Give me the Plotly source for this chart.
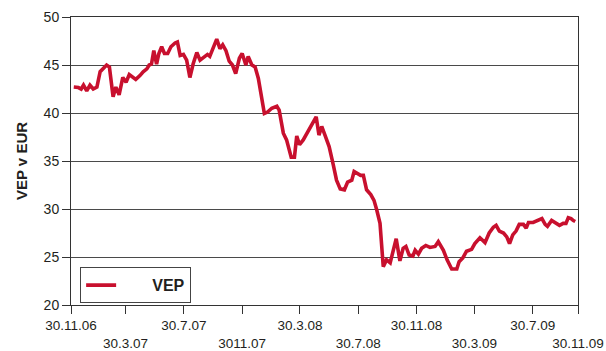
import pandas as pd
import plotly.graph_objects as go

# Weekly VEP price (EUR); day = days since 30.11.2006
day = [6, 16, 22, 27, 34, 41, 48, 56, 63, 70, 77, 83, 91, 97, 104, 112, 119, 126,
       133, 140, 149, 156, 164, 169, 174, 179, 185, 190, 196, 202, 209, 216, 225,
       230, 236, 243, 250, 257, 264, 272, 279, 288, 295, 300, 308, 315, 322, 328,
       335, 342, 349, 356, 364, 370, 378, 383, 391, 398, 405, 412, 418, 425, 434,
       445, 450, 459, 466, 476, 483, 488, 494, 502, 513, 524, 530, 536, 542, 549,
       558, 567, 574, 582, 591, 598, 607, 612, 619, 626, 632, 639, 648, 655, 661,
       668, 675, 682, 690, 697, 703, 711, 718, 724, 731, 739, 744, 751, 758, 767,
       776, 787, 794, 805, 813, 823, 834, 839, 847, 855, 866, 873, 884, 895, 904,
       913, 919, 926, 935, 942, 948, 955, 962, 969, 978, 984, 989, 999, 1010, 1018,
       1025, 1030, 1039, 1048, 1056, 1064, 1070, 1075, 1081, 1086, 1090]
vep = [42.7, 42.65, 42.5, 42.9, 42.3, 42.9, 42.5, 42.7, 44.3, 44.6, 45.0, 44.8,
       41.7, 42.7, 41.9, 43.7, 43.2, 44.0, 43.8, 43.5, 43.9, 44.3, 44.6, 45.0,
       45.1, 46.5, 45.1, 46.2, 46.9, 46.2, 46.2, 46.9, 47.3, 47.4, 46.0, 46.1,
       45.5, 43.7, 45.1, 46.3, 45.5, 45.8, 46.1, 45.9, 47.0, 47.7, 46.7, 47.1,
       46.5, 45.4, 45.0, 44.1, 45.7, 46.2, 45.0, 45.9, 45.0, 44.8, 43.6, 41.5,
       39.95, 40.1, 40.5, 40.7, 40.3, 37.9, 37.2, 35.4, 35.4, 37.6, 36.7, 37.2,
       38.2, 39.2, 39.6, 37.7, 38.6, 37.7, 36.5, 34.6, 33.0, 32.1, 32.0, 32.8,
       33.0, 33.9, 33.7, 33.5, 33.5, 32.0, 31.5, 30.9, 29.9, 28.5, 24.0, 24.7,
       24.4, 25.9, 26.9, 24.6, 25.9, 26.1, 25.2, 25.1, 25.7, 25.3, 25.9, 26.2,
       26.0, 26.1, 26.6, 25.7, 24.7, 23.75, 23.75, 24.5, 24.9, 25.6, 25.8, 26.4,
       27.0, 26.5, 27.5, 28.1, 28.3, 27.7, 27.5, 27.1, 26.4, 27.3, 27.7, 28.4,
       28.4, 28.0, 28.6, 28.6, 28.8, 29.0, 28.4, 28.2, 28.8, 28.5, 28.3, 28.5,
       28.5, 29.1, 29.0, 28.8, 28.7]

# Axis ticks (days since start) and their labels
tick_days = [0, 118, 244, 370, 495, 621, 747, 872, 998, 1096]
tick_labels = ["30.11.06", "30.3.07", "30.7.07", "3011.07", "30.3.08",
               "30.7.08", "30.11.08", "30.3.09", "30.7.09", "30.11.09"]
y_ticks = [20, 25, 30, 35, 40, 45, 50]

start = pd.Timestamp("2006-11-30")
dates = start + pd.to_timedelta(day, unit="D")
tick_dates = start + pd.to_timedelta(tick_days, unit="D")
x_range = [start, start + pd.Timedelta(days=1096)]

# every second date label drops to a lower row
tick_text = [lab if i % 2 == 0 else "<br>" + lab for i, lab in enumerate(tick_labels)]

FONT = "Liberation Sans, Arial, sans-serif"
INK = "#231f20"
RED = "#c8102e"
NBSP = "\u00a0"

fig = go.Figure()
fig.add_trace(go.Scatter(x=dates, y=vep, mode="lines",
                         name=NBSP * 7 + "VEP",
                         line=dict(color=RED, width=3.6)))

fig.update_layout(
    width=606, height=351,
    margin=dict(l=71, r=28, t=17, b=46),
    paper_bgcolor="white", plot_bgcolor="white",
    font=dict(family=FONT, color=INK, size=14),
    showlegend=True,
    legend=dict(x=0.018, y=0.131, xanchor="left", yanchor="top",
                bordercolor="#444", borderwidth=1, bgcolor="white",
                font=dict(family=FONT, size=16, weight="bold", color=INK)),
    xaxis=dict(
        range=x_range, tickvals=list(tick_dates), ticktext=tick_text,
        tickangle=0, automargin=False,
        ticks="outside", ticklen=8, tickcolor="#333", tickwidth=1,
        showline=True, linecolor="#333", linewidth=1, mirror=True,
        showgrid=False, zeroline=False, tickfont=dict(size=13.5),
        ticklabelstandoff=0,
    ),
    yaxis=dict(
        range=[20, 50], tickvals=y_ticks, ticks="outside", ticklen=8,
        tickcolor="#333", showline=True, linecolor="#333", linewidth=1,
        mirror=True, showgrid=True, gridcolor="#4a4a4a", gridwidth=1,
        zeroline=False, tickfont=dict(size=14), automargin=False,
        title=dict(text="VEP v EUR", font=dict(size=15, weight="bold"),
                   standoff=12),
    ),
)

fig.write_html("out.html")
